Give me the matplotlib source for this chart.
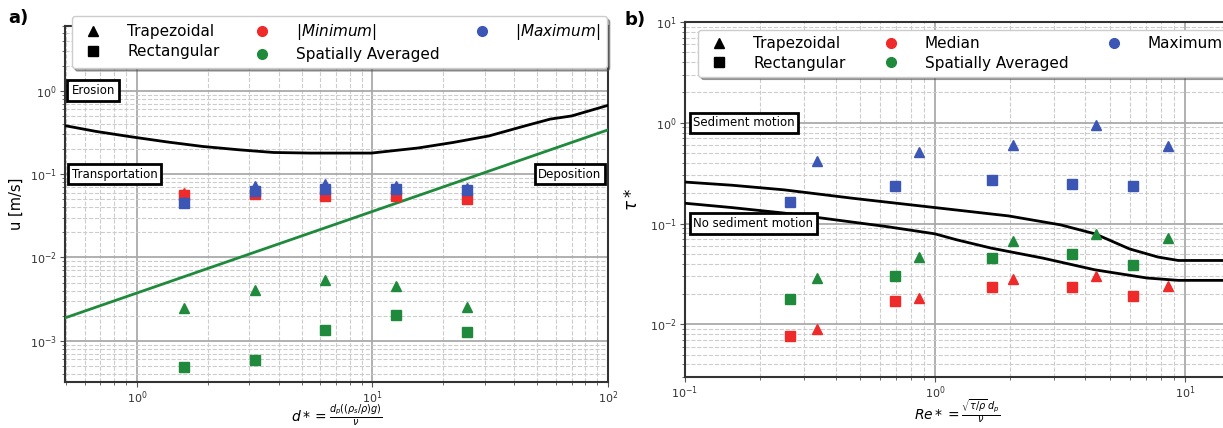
import matplotlib
matplotlib.use('Agg')
import matplotlib.pyplot as plt
from matplotlib.lines import Line2D

# ---------------- Panel a data ----------------
d_star = [1.58, 3.16, 6.31, 12.6, 25.1]
u_min_trap = [0.060, 0.062, 0.058, 0.057, 0.052]
u_min_rect = [0.056, 0.057, 0.055, 0.054, 0.050]
u_max_trap = [0.046, 0.072, 0.076, 0.073, 0.069]
u_max_rect = [0.045, 0.062, 0.066, 0.067, 0.065]
u_avg_trap = [0.00244, 0.0041, 0.0053, 0.0046, 0.00253]
u_avg_rect = [0.00049, 0.00058, 0.00133, 0.00206, 0.00127]
erosion_d = [0.5, 0.669, 0.95, 1.35, 1.9, 2.71, 3.8, 5.46, 9.9, 15.6, 22.0, 31.3, 44.5, 56.9, 70.2, 100]
erosion_u = [0.38, 0.326, 0.28, 0.243, 0.215, 0.196, 0.182, 0.179, 0.179, 0.206, 0.24, 0.288, 0.38, 0.458, 0.50, 0.67]
deposition_d = [0.5, 100]
deposition_u = [0.0019, 0.34]

# ---------------- Panel b data ----------------
re_rect = [0.264, 0.689, 1.69, 3.53, 6.2]
re_trap = [0.337, 0.86, 2.05, 4.4, 8.55]
tau_max_trap = [0.42, 0.516, 0.60, 0.95, 0.59]
tau_max_rect = [0.165, 0.238, 0.271, 0.245, 0.238]
tau_avg_trap = [0.0285, 0.0468, 0.0673, 0.0784, 0.0726]
tau_avg_rect = [0.0178, 0.0303, 0.0454, 0.0497, 0.0387]
tau_med_trap = [0.0090, 0.0181, 0.0279, 0.0303, 0.0242]
tau_med_rect = [0.0077, 0.0169, 0.0232, 0.0232, 0.0192]
upper_re = [0.1, 0.154, 0.249, 0.47, 1.0, 1.97, 3.18, 4.37, 6.0, 7.8, 9.4, 15]
upper_tau = [0.258, 0.24, 0.216, 0.178, 0.144, 0.119, 0.097, 0.079, 0.056, 0.0465, 0.043, 0.043]
lower_re = [0.1, 0.154, 0.249, 0.646, 1.0, 1.22, 1.68, 2.7, 4.37, 7.05, 9.4, 15]
lower_tau = [0.159, 0.144, 0.127, 0.093, 0.079, 0.069, 0.057, 0.0454, 0.0347, 0.0288, 0.0273, 0.0273]

RED = '#ee2a2a'
BLUE = '#3b56b4'
GREEN = '#1f8a3c'
MS = 7.5

fig = plt.figure(figsize=(12.23, 4.28), dpi=100)
axa = fig.add_axes([65 / 1223, 1 - 382 / 428, 543 / 1223, 356 / 428])
axb = fig.add_axes([685 / 1223, 1 - 377 / 428, 544 / 1223, 355 / 428])


def style(ax):
    ax.set_xscale('log')
    ax.set_yscale('log')
    ax.grid(True, which='major', color='#aaaaaa', lw=1.3, ls='-')
    ax.grid(True, which='minor', color='#cccccc', lw=0.8, ls='--')
    ax.set_axisbelow(True)
    ax.tick_params(which='both', labelsize=8, labelcolor='#333333', color='#555555', pad=2.5)
    ax.tick_params(axis='x', which='both', pad=1.5)
    for s in ax.spines.values():
        s.set_color('#333333')
        s.set_linewidth(1.5)


box = dict(boxstyle='square,pad=0.3', fc='white', ec='black', lw=2)

# ---------------- Panel a ----------------
style(axa)
axa.plot(erosion_d, erosion_u, color='black', lw=2, zorder=3)
axa.plot(deposition_d, deposition_u, color=GREEN, lw=2, zorder=3)
axa.plot(d_star, u_min_trap, ls='none', marker='^', ms=MS, color=RED, zorder=4)
axa.plot(d_star, u_min_rect, ls='none', marker='s', ms=MS, color=RED, zorder=4)
axa.plot(d_star, u_max_trap, ls='none', marker='^', ms=MS, color=BLUE, zorder=4)
axa.plot(d_star, u_max_rect, ls='none', marker='s', ms=MS, color=BLUE, zorder=4)
axa.plot(d_star, u_avg_trap, ls='none', marker='^', ms=MS, color=GREEN, zorder=4)
axa.plot(d_star, u_avg_rect, ls='none', marker='s', ms=MS, color=GREEN, zorder=4)
axa.set_xlim(0.495, 100)
axa.set_ylim(3.2e-4, 6.0)
axa.set_ylabel('u [m/s]', fontsize=10.5, labelpad=4)
axa.set_xlabel(r'$d* = \frac{d_p((\rho_s/\rho)g)}{\nu}$', fontsize=10, labelpad=-2)
axa.text(0.012, 1.0, 'Erosion', transform=axa.get_yaxis_transform(), fontsize=8.5,
         ha='left', va='center', bbox=dict(boxstyle='square,pad=0.35', fc='white', ec='black', lw=2),
         zorder=6)
axa.text(0.012, 0.1, 'Transportation', transform=axa.get_yaxis_transform(), fontsize=8.5,
         ha='left', va='center', bbox=box, zorder=6)
axa.text(0.988, 0.1, 'Deposition', transform=axa.get_yaxis_transform(), fontsize=8.5,
         ha='right', va='center', bbox=box, zorder=6)

handles_a = [
    Line2D([], [], ls='none', marker='^', color='black', ms=7),
    Line2D([], [], ls='none', marker='s', color='black', ms=7),
    Line2D([], [], ls='none', marker='o', color=RED, ms=7),
    Line2D([], [], ls='none', marker='o', color=GREEN, ms=7),
    Line2D([], [], ls='none', marker='o', color=BLUE, ms=7),
]
labels_a = ['Trapezoidal', 'Rectangular', r'$|Minimum|$', 'Spatially Averaged', r'$|Maximum|$']
leg = axa.legend(handles_a, labels_a, ncol=3, loc='upper left', mode='expand',
                 bbox_to_anchor=(0.013, 0.0, 0.985, 1.027), borderaxespad=0,
                 fontsize=11, shadow=True, framealpha=1, handletextpad=1.2,
                 labelspacing=0.3, borderpad=0.4)
leg.set_zorder(10)

# ---------------- Panel b ----------------
style(axb)
axb.plot(upper_re, upper_tau, color='black', lw=2, zorder=3)
axb.plot(lower_re, lower_tau, color='black', lw=2, zorder=3)
axb.plot(re_trap, tau_max_trap, ls='none', marker='^', ms=MS, color=BLUE, zorder=4)
axb.plot(re_rect, tau_max_rect, ls='none', marker='s', ms=MS, color=BLUE, zorder=4)
axb.plot(re_trap, tau_avg_trap, ls='none', marker='^', ms=MS, color=GREEN, zorder=4)
axb.plot(re_rect, tau_avg_rect, ls='none', marker='s', ms=MS, color=GREEN, zorder=4)
axb.plot(re_trap, tau_med_trap, ls='none', marker='^', ms=MS, color=RED, zorder=4)
axb.plot(re_rect, tau_med_rect, ls='none', marker='s', ms=MS, color=RED, zorder=4)
axb.set_xlim(0.1, 15)
axb.set_ylim(3.0e-3, 10)
axb.set_ylabel(r'$\tau*$', fontsize=12, labelpad=6)
axb.set_xlabel(r'$Re* = \frac{\sqrt{\tau/\rho}\,d_p}{\nu}$', fontsize=10, labelpad=-2)
axb.text(0.015, 1.0, 'Sediment motion', transform=axb.get_yaxis_transform(), fontsize=8.5,
         ha='left', va='center', bbox=box, zorder=6)
axb.text(0.015, 0.1, 'No sediment motion', transform=axb.get_yaxis_transform(), fontsize=8.5,
         ha='left', va='center', bbox=box, zorder=6)

handles_b = [
    Line2D([], [], ls='none', marker='^', color='black', ms=7),
    Line2D([], [], ls='none', marker='s', color='black', ms=7),
    Line2D([], [], ls='none', marker='o', color=RED, ms=7),
    Line2D([], [], ls='none', marker='o', color=GREEN, ms=7),
    Line2D([], [], ls='none', marker='o', color=BLUE, ms=7),
]
labels_b = ['Trapezoidal', 'Rectangular', 'Median', 'Spatially Averaged', 'Maximum']
legb = axb.legend(handles_b, labels_b, ncol=3, loc='upper left', mode='expand',
                  bbox_to_anchor=(0.024, 0.0, 0.975, 0.978), borderaxespad=0,
                  fontsize=11, shadow=True, framealpha=1, handletextpad=1.2,
                  labelspacing=0.3, borderpad=0.4)
legb.set_zorder(10)

fig.text(8 / 1223, 1 - 18 / 428, 'a)', fontsize=13, fontweight='bold', va='center', ha='left')
fig.text(624 / 1223, 1 - 20 / 428, 'b)', fontsize=13, fontweight='bold', va='center', ha='left')

fig.savefig('out.png', dpi=100)
